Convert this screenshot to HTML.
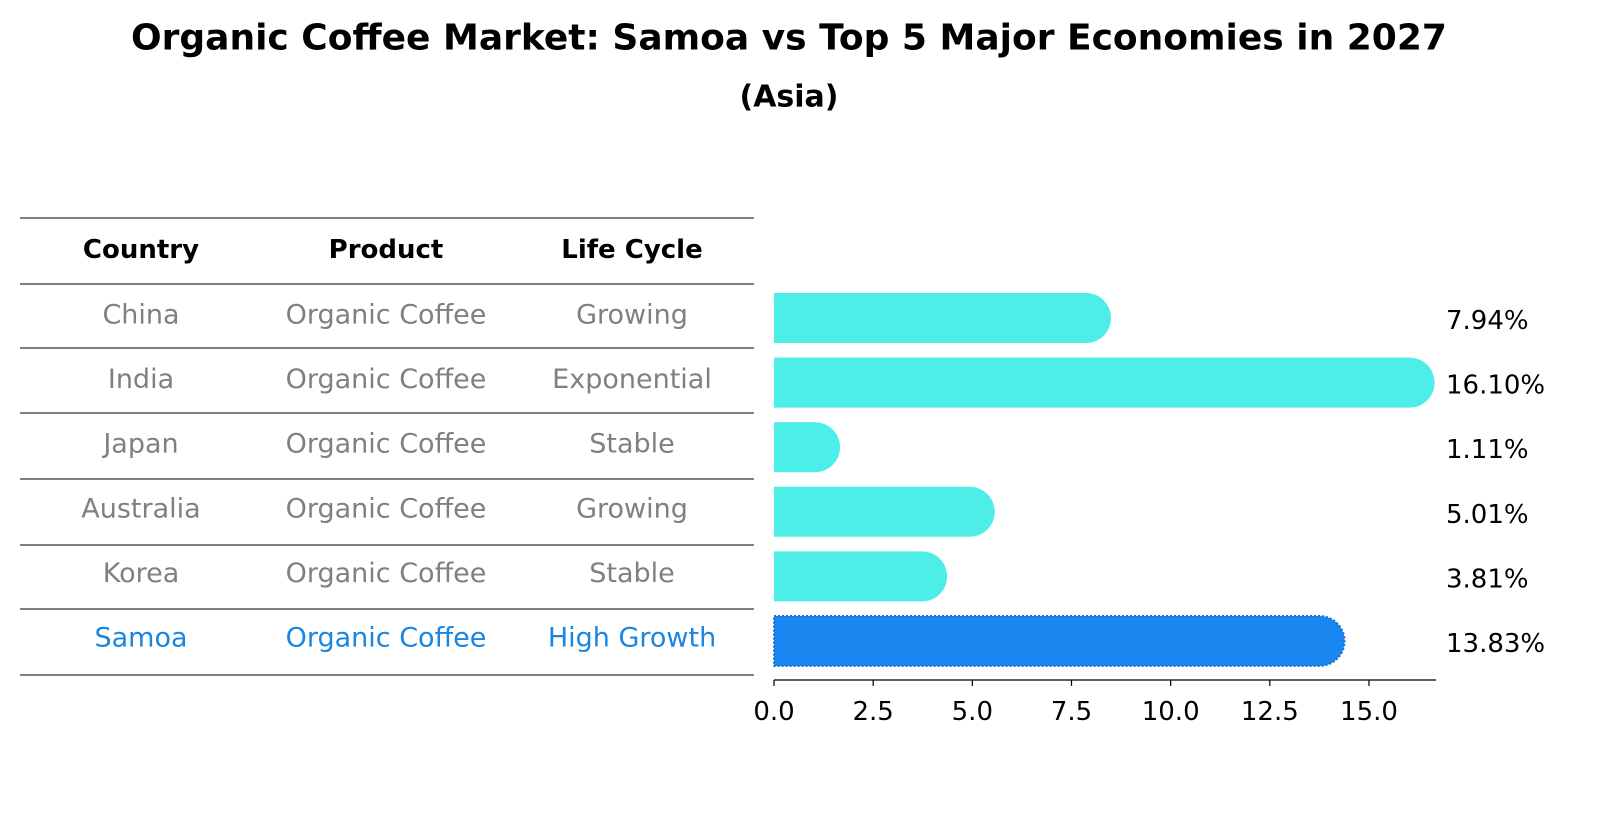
<!DOCTYPE html>
<html><head><meta charset="utf-8"><style>
body{margin:0;background:#fff;font-family:"Liberation Sans","DejaVu Sans",sans-serif}
</style></head><body>
<svg id="chart" width="1604" height="823" xmlns="http://www.w3.org/2000/svg" font-family="DejaVu Sans, Liberation Sans, sans-serif">
<text x="789" y="38" text-anchor="middle" dominant-baseline="central" font-size="36" font-weight="bold">Organic Coffee Market: Samoa vs Top 5 Major Economies in 2027</text>
<text x="789" y="97" text-anchor="middle" dominant-baseline="central" font-size="30" font-weight="bold">(Asia)</text>
<g id="table"></g>
<g id="bars"></g>
</svg>
<script>
const countries=["China","India","Japan","Australia","Korea","Samoa"];
const products=["Organic Coffee","Organic Coffee","Organic Coffee","Organic Coffee","Organic Coffee","Organic Coffee"];
const lifeCycles=["Growing","Exponential","Stable","Growing","Stable","High Growth"];
const values=[7.94,16.10,1.11,5.01,3.81,13.83];
const valueLabels=["7.94%","16.10%","1.11%","5.01%","3.81%","13.83%"];
const ticks=[0,2.5,5,7.5,10,12.5,15];
const tickLabels=["0.0","2.5","5.0","7.5","10.0","12.5","15.0"];

const NS="http://www.w3.org/2000/svg";
function mk(tag,attrs,parent,txt){const e=document.createElementNS(NS,tag);for(const k in attrs)e.setAttribute(k,attrs[k]);if(txt!==undefined)e.textContent=txt;parent.appendChild(e);return e;}
const x=v=>774+v*(595/15);
const rowY=i=>318+i*64.6;
const table=document.getElementById('table');
const bars=document.getElementById('bars');
const lineYs=[218,284,348,413,479,545,609,675];
lineYs.forEach(y=>{const l=mk('line',{x1:20,x2:754,y1:y,y2:y,stroke:'#000','stroke-width':1},table);

});
const colX=[141,386,632];
["Country","Product","Life Cycle"].forEach((h,j)=>{const t=mk('text',{x:colX[j],y:250,'text-anchor':'middle','dominant-baseline':'central','font-size':26,'font-weight':'bold'},table,h);

});
countries.forEach((c,i)=>{
  const col=i===5?'#1a86e0':'#808080';
  [c,products[i],lifeCycles[i]].forEach((s,j)=>{const t=mk('text',{x:colX[j],y:rowY(i)-3,'text-anchor':'middle','dominant-baseline':'central','font-size':27,fill:col},table,s);
  
  });
});
const h=50,r=25;
values.forEach((v,i)=>{
  const cy=rowY(i), xe=x(v)-3;
  const d=`M774 ${cy-h/2} H${xe} A${r} ${r} 0 0 1 ${xe} ${cy+h/2} H774 Z`;
  const samoa=i===5;
  const p=mk('path',{d:d,fill:samoa?'#1a86f0':'#4deee8',stroke:samoa?'#1a6fd8':'none','stroke-dasharray':samoa?'2 2':'none','stroke-width':samoa?2:0},bars);
  
  
  const t=mk('text',{x:1446,y:cy+3,'dominant-baseline':'central','font-size':26},bars,valueLabels[i]);
  
  
});
const ax=mk('line',{x1:774,x2:1436,y1:680,y2:680,stroke:'#000','stroke-width':1.2},bars);


ticks.forEach((t,i)=>{
  const tl=mk('line',{x1:x(t),x2:x(t),y1:680,y2:686,stroke:'#000','stroke-width':1.2},bars);
  
  
  const tt=mk('text',{x:x(t),y:712,'text-anchor':'middle','dominant-baseline':'central','font-size':26},bars,tickLabels[i]);
  
  
});
</script>
</body></html>
